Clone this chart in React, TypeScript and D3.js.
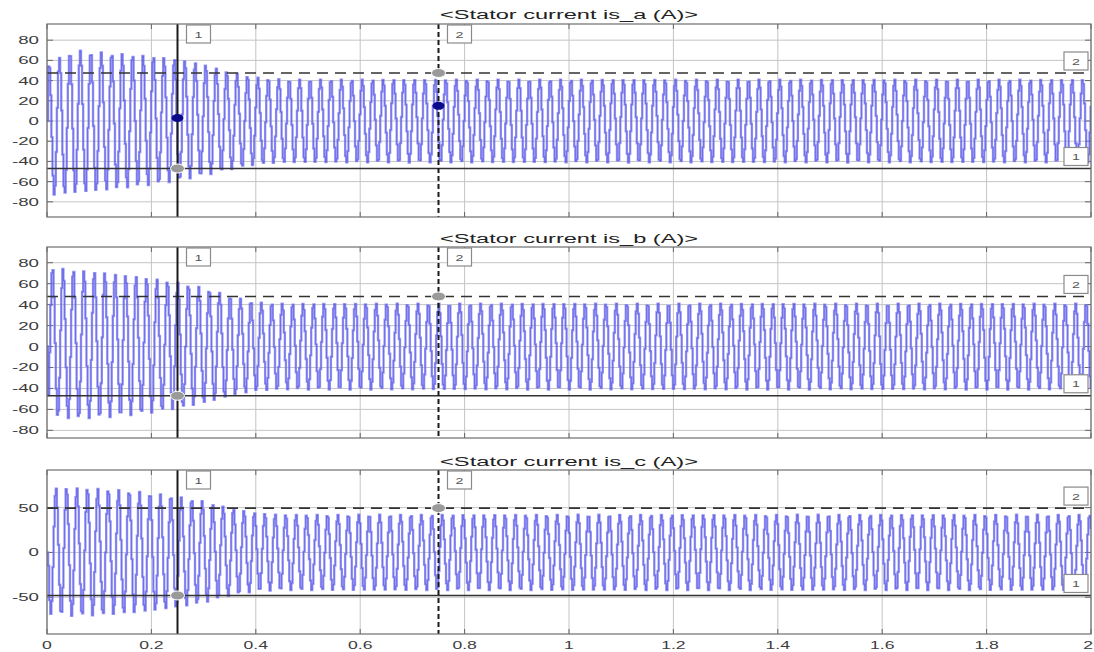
import React from "react";
import * as d3 from "d3";

// ---------- data ----------
const xTicks = [0, 0.2, 0.4, 0.6, 0.8, 1, 1.2, 1.4, 1.6, 1.8, 2];
const xTickLabels = ["0", "0.2", "0.4", "0.6", "0.8", "1", "1.2", "1.4", "1.6", "1.8", "2"];
const titles = ["<Stator current is_a (A)>", "<Stator current is_b (A)>", "<Stator current is_c (A)>"];
const yTicksAB = [80, 60, 40, 20, 0, -20, -40, -60, -80];
const yTicksC = [50, 0, -50];

// envelope knots (time s) and peak values per phase
const envTime = [0, 0.05, 0.1, 0.15, 0.2, 0.25, 0.3, 0.35, 0.4, 0.45, 2];
const posA = [56, 70, 68, 66, 64, 61, 56, 48, 43, 41, 41];
const negA = [-74, -71, -69, -66, -63, -59, -54, -48, -43, -41, -41];
const posB = [76, 73, 71, 68, 65, 61, 56, 48, 42, 41, 41];
const negB = [-66, -69, -68, -66, -63, -59, -54, -47, -42, -41, -41];
const posC = [72, 72, 71, 69, 66, 62, 57, 49, 44, 42, 42];
const negC = [-68, -71, -70, -68, -65, -61, -56, -48, -43, -42, -42];
const phaseShift = [0.63, 0.63 - (2 * Math.PI) / 3, 0.63 + (2 * Math.PI) / 3];
const supplyHz = 50;
const sampleStep = 0.0021;

// cursors
const cursorT = [0.25, 0.75];
const cursorLevels = [
  [-47, 47.5],
  [-47, 47.8],
  [-48, 49.5],
];
const signalAtCursorA = [3, 15];

// ---------- layout ----------
const W = 1094;
const H = 652;
const X0 = 47;
const X1 = 1091;
const panels = [
  { top: 24, bottom: 217, domain: [-95, 96], ticks: yTicksAB, pos: posA, neg: negA, titleY: 19 },
  { top: 247, bottom: 438, domain: [-87.3, 95], ticks: yTicksAB, pos: posB, neg: negB, titleY: 243 },
  { top: 470, bottom: 634, domain: [-91, 92], ticks: yTicksC, pos: posC, neg: negC, titleY: 466 },
];

const x = d3.scaleLinear().domain([0, 2]).range([X0, X1]);

function buildSeries(pos: number[], neg: number[], phi: number) {
  const up = d3.scaleLinear().domain(envTime).range(pos);
  const lo = d3.scaleLinear().domain(envTime).range(neg);
  const pts: [number, number][] = [];
  const n = Math.floor(2 / sampleStep);
  for (let i = 0; i <= n; i++) {
    const t = i * sampleStep;
    const mid = (up(t) + lo(t)) / 2;
    const half = (up(t) - lo(t)) / 2;
    const v = i === 0 ? 0 : mid + half * Math.sin(2 * Math.PI * supplyHz * t + phi);
    pts.push([t, v]);
  }
  return pts;
}

const FONT = "Arial, 'Liberation Sans', Helvetica, sans-serif";

function Box({ cx, cy, label }: { cx: number; cy: number; label: string }) {
  return (
    <g>
      <rect x={cx - 12} y={cy - 9} width={24} height={18} fill="#fff" stroke="#8a8a8a" strokeWidth={1.2} />
      <text x={0} y={0} transform={`translate(${cx},${cy + 3.5}) scale(1.5,1)`} textAnchor="middle" fontSize={9.5} fill="#555" fontFamily={FONT}>
        {label}
      </text>
    </g>
  );
}

function Panel({ idx }: { idx: number }) {
  const p = panels[idx];
  const y = d3.scaleLinear().domain(p.domain).range([p.bottom, p.top]);
  const data = buildSeries(p.pos, p.neg, phaseShift[idx]);
  const line = d3
    .line<[number, number]>()
    .x((d) => x(d[0]))
    .y((d) => y(d[1]))
    .curve(d3.curveStepAfter);
  const path = line(data) || "";
  const clipId = `clip${idx}`;
  const [lvLo, lvHi] = cursorLevels[idx];
  return (
    <g>
      <defs>
        <clipPath id={clipId}>
          <rect x={X0} y={p.top} width={X1 - X0} height={p.bottom - p.top} />
        </clipPath>
      </defs>
      <rect x={X0} y={p.top} width={X1 - X0} height={p.bottom - p.top} fill="#fff" />
      {/* grid */}
      {xTicks.map((t, i) => (
        <line key={"gx" + i} x1={x(t)} x2={x(t)} y1={p.top} y2={p.bottom} stroke="#c4c4c4" strokeWidth={1} />
      ))}
      {p.ticks.map((v, i) => (
        <line key={"gy" + i} x1={X0} x2={X1} y1={y(v)} y2={y(v)} stroke="#c4c4c4" strokeWidth={1} />
      ))}
      {/* tick marks */}
      {xTicks.map((t, i) => (
        <g key={"tx" + i}>
          <line x1={x(t)} x2={x(t)} y1={p.bottom} y2={p.bottom - 5} stroke="#666" />
          <line x1={x(t)} x2={x(t)} y1={p.top} y2={p.top + 5} stroke="#666" />
        </g>
      ))}
      {p.ticks.map((v, i) => (
        <g key={"ty" + i}>
          <line x1={X0} x2={X0 + 6} y1={y(v)} y2={y(v)} stroke="#666" />
          <line x1={X1} x2={X1 - 6} y1={y(v)} y2={y(v)} stroke="#666" />
          <text
            transform={`translate(${X0 - 8},${y(v) + 4}) scale(1.7,1)`}
            textAnchor="end"
            fontSize={11}
            fill="#3c3c3c"
            fontFamily={FONT}
          >
            {v}
          </text>
        </g>
      ))}
      {/* signal */}
      <g clipPath={`url(#${clipId})`}>
        <path d={path} fill="none" stroke="#8282f4" strokeWidth={2.4} strokeOpacity={0.8} />
        <path d={path} fill="none" stroke="#2424d0" strokeWidth={0.7} strokeOpacity={0.55} />
      </g>
      {/* cursors */}
      <line x1={X0} x2={X1} y1={y(lvHi)} y2={y(lvHi)} stroke="#333" strokeWidth={1.6} strokeDasharray="11,7" />
      <line x1={X0} x2={X1} y1={y(lvLo)} y2={y(lvLo)} stroke="#333" strokeWidth={1.6} />
      <line x1={x(cursorT[0])} x2={x(cursorT[0])} y1={p.top} y2={p.bottom} stroke="#1a1a1a" strokeWidth={2} />
      <line x1={x(cursorT[1])} x2={x(cursorT[1])} y1={p.top} y2={p.bottom} stroke="#1a1a1a" strokeWidth={2} strokeDasharray="5,3" />
      <ellipse cx={x(cursorT[0])} cy={y(lvLo)} rx={7} ry={4.5} fill="#9a9a9a" stroke="#fff" strokeWidth={1} />
      <ellipse cx={x(cursorT[1])} cy={y(lvHi)} rx={7} ry={4.5} fill="#9a9a9a" stroke="#fff" strokeWidth={1} />
      {idx === 0 &&
        signalAtCursorA.map((v, i) => (
          <ellipse key={"sd" + i} cx={x(cursorT[i])} cy={y(v)} rx={6} ry={4} fill="#0a0a8a" />
        ))}
      {/* border */}
      <rect x={X0} y={p.top} width={X1 - X0} height={p.bottom - p.top} fill="none" stroke="#6e6e6e" strokeWidth={1.2} />
      {/* boxes */}
      <Box cx={x(cursorT[0]) + 21} cy={p.top + 10} label="1" />
      <Box cx={x(cursorT[1]) + 21} cy={p.top + 10} label="2" />
      <Box cx={X1 - 15} cy={y(lvHi) - 12} label="2" />
      <Box cx={X1 - 15} cy={y(lvLo) - 12} label="1" />
      {/* title */}
      <text x={569} y={p.titleY} textAnchor="middle" fontSize={12} fill="#222" fontFamily={FONT} textLength={258} lengthAdjust="spacingAndGlyphs">
        {titles[idx]}
      </text>
    </g>
  );
}

export default function App() {
  return (
    <svg width={W} height={H} style={{ position: "absolute", left: 0, top: 0, background: "#fff" }}>
      <rect x={0} y={0} width={W} height={H} fill="#fff" />
      {panels.map((_, i) => (
        <Panel key={i} idx={i} />
      ))}
      {xTicks.map((t, i) => {
        const last = i === xTicks.length - 1;
        return (
          <text
            key={"xl" + i}
            transform={`translate(${last ? W - 1 : x(t)},${649}) scale(1.6,1)`}
            textAnchor={last ? "end" : "middle"}
            fontSize={11}
            fill="#3c3c3c"
            fontFamily={FONT}
          >
            {xTickLabels[i]}
          </text>
        );
      })}
    </svg>
  );
}
